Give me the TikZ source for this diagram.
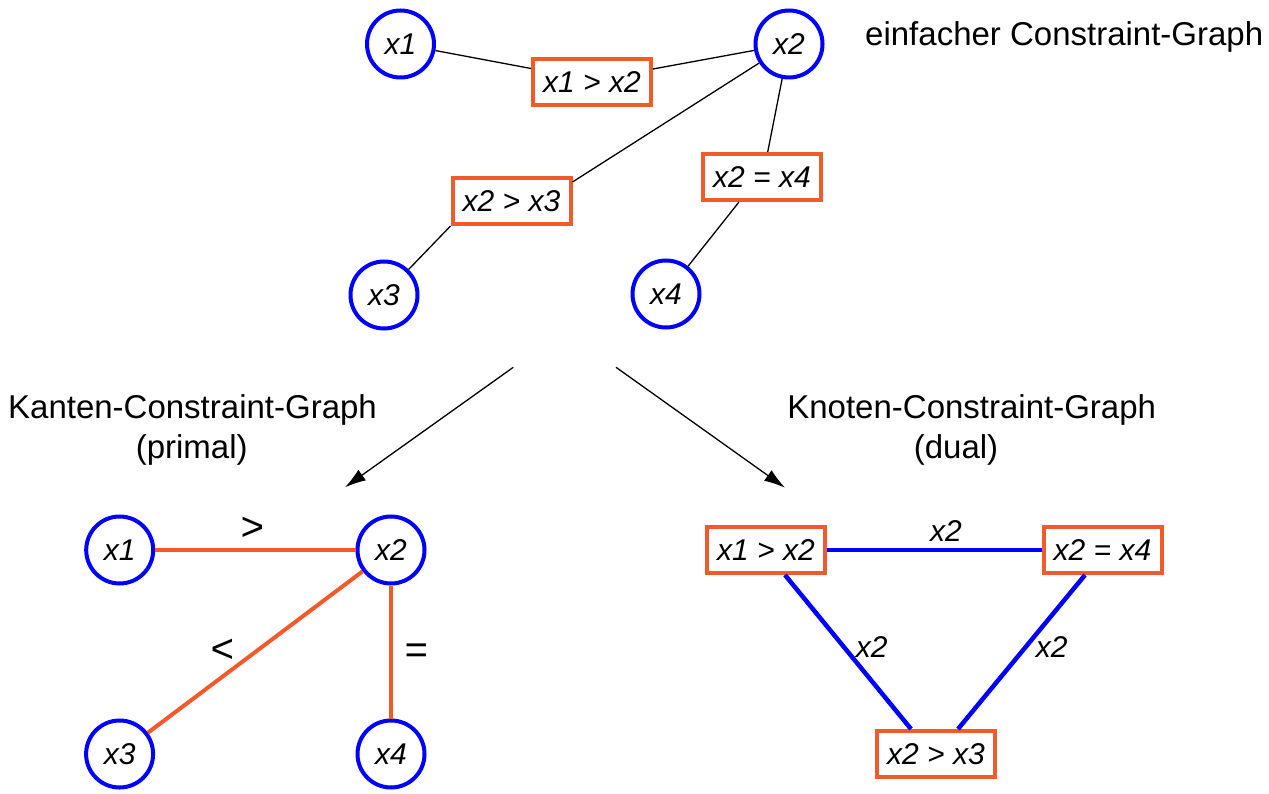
\documentclass[tikz,border=0pt]{standalone}
\usepackage{fontspec}
\setmainfont{Liberation Sans}
\usetikzlibrary{arrows.meta}
\definecolor{varblue}{RGB}{0,0,255}
\definecolor{consorange}{RGB}{241,90,41}
\tikzset{
  var/.style={circle, draw=varblue, line width=4pt, minimum size=67pt, inner sep=0pt,
    font=\fontsize{30}{36}\selectfont\itshape},
  cons/.style={rectangle, draw=consorange, line width=4pt, minimum width=118pt,
    minimum height=46pt, inner sep=0pt, fill=white, font=\fontsize{30}{36}\selectfont\itshape},
  thinedge/.style={draw=black, line width=1.3pt},
  primaledge/.style={draw=consorange, line width=4pt},
  dualedge/.style={draw=varblue, line width=4.5pt},
  caption/.style={font=\fontsize{33}{40}\selectfont, inner sep=0pt},
  edgelabel/.style={font=\fontsize{30}{36}\selectfont\itshape, inner sep=0pt},
  rellabel/.style={font=\fontsize{40}{48}\selectfont\itshape, inner sep=0pt},
  flow/.style={draw=black, line width=1.3pt, -{Latex[length=21pt,width=13pt]}}
}
\begin{document}
\begin{tikzpicture}[x=1pt,y=-1pt]
\useasboundingbox (0,0) rectangle (1269,794);

% simple constraint graph
\node[var] (x1) at (400.5,44) {x1};
\node[var] (x2) at (789,44) {x2};
\node[var] (x3) at (384,295) {x3};
\node[var] (x4) at (666,294) {x4};
\node[cons] (b1) at (592,82) {x1 > x2};
\node[cons] (b2) at (511.5,201) {x2 > x3};
\node[cons] (b3) at (762,177) {x2 = x4};
\node[caption, anchor=base west] (t0) at (865,46) {einfacher Constraint-Graph};

\draw[thinedge] (x1) -- ([yshift=13.5pt]b1.west);
\draw[thinedge] ([yshift=13pt]b1.east) -- (x2);
\draw[thinedge] (x2) -- ([yshift=19pt]b2.east);
\draw[thinedge] (b2.south west) -- (x3);
\draw[thinedge] (x2) -- ([xshift=5.7pt]b3.north);
\draw[thinedge] ([xshift=-23pt]b3.south) -- (x4);

% transformation arrows
\coordinate (a0) at (513.3,367.3);
\coordinate (a1) at (345,487.3);
\coordinate (c0) at (616,367.3);
\coordinate (c1) at (785,487.7);
\draw[flow] (a0) -- (a1);
\draw[flow] (c0) -- (c1);

% captions
\node[caption, anchor=base] (t1) at (192.5,418.3) {Kanten-Constraint-Graph};
\node[caption, anchor=base] (t2) at (191.7,458.3) {(primal)};
\node[caption, anchor=base] (t3) at (971.7,418.3) {Knoten-Constraint-Graph};
\node[caption, anchor=base] (t4) at (956,458.3) {(dual)};

% primal graph
\node[var] (p1) at (119.7,550) {x1};
\node[var] (p2) at (391,550) {x2};
\node[var] (p3) at (119.6,754) {x3};
\node[var] (p4) at (391,754) {x4};
\draw[primaledge] (p1) -- (p2);
\draw[primaledge] (p2) -- (p3);
\draw[primaledge] (p2) -- (p4);
\node[rellabel] (r1) at (252,529) {>};
\node[rellabel] (r2) at (222.5,650.5) {<};
\node[rellabel] (r3) at (416,654) {=};

% dual graph
\node[cons] (d1) at (766,550) {x1 > x2};
\node[cons] (d2) at (1102.5,550) {x2 = x4};
\node[cons] (d3) at (936,754) {x2 > x3};
\draw[dualedge] (d1) -- (d2);
\draw[dualedge] ([xshift=19pt]d1.south) -- ([xshift=-25pt]d3.north);
\draw[dualedge] ([xshift=-17.5pt]d2.south) -- ([xshift=22pt]d3.north);
\node[edgelabel] (e1) at (946,531) {x2};
\node[edgelabel] (e2) at (871.7,647) {x2};
\node[edgelabel] (e3) at (1051.7,647) {x2};
\end{tikzpicture}
\end{document}
